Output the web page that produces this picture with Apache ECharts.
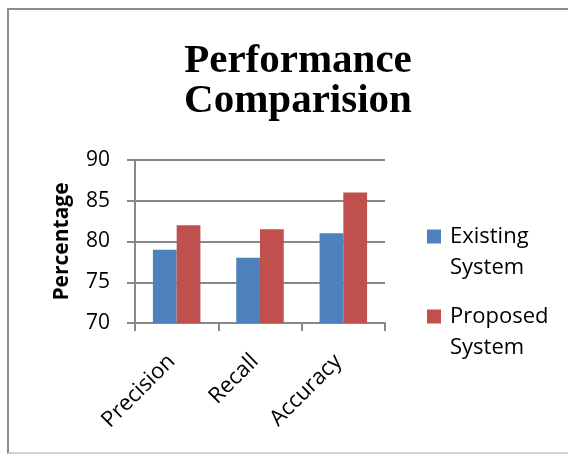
<!DOCTYPE html>
<html>
<head>
<meta charset="utf-8">
<script src="https://cdn.jsdelivr.net/npm/echarts@6/dist/echarts.min.js"></script>
<style>
html,body{margin:0;padding:0;background:#fff;}
#frame{position:absolute;left:7px;top:8px;width:620px;height:442px;border-left:2px solid #8c8c8c;border-top:2px solid #8c8c8c;border-bottom:2px solid #d0d0d0;}
#chart{position:absolute;left:0;top:0;width:568px;height:454px;}
</style>
</head>
<body>
<div id="frame"></div>
<div id="chart"></div>
<script>
const categories = ['Precision', 'Recall', 'Accuracy'];
const existingSystem = [79, 78, 81];
const proposedSystem = [82, 81.5, 86];
const seriesNames = ['Existing\nSystem', 'Proposed\nSystem'];
const yTicks = { min: 70, max: 90, interval: 5 };

const chart = echarts.init(document.getElementById('chart'), null, { renderer: 'canvas' });
const sans = '"Open Sans", sans-serif';
chart.setOption({
  animation: false,
  title: {
    text: 'Performance\nComparision',
    left: 293,
    top: 36,
    textAlign: 'center',
    textStyle: {
      fontFamily: '"Liberation Serif", "Times New Roman", serif',
      fontWeight: 'bold',
      fontSize: 41,
      lineHeight: 40,
      color: '#000'
    }
  },
  legend: {
    orient: 'vertical',
    left: 427,
    top: 190,
    padding: 0,
    itemWidth: 14,
    itemHeight: 14,
    itemGap: -13,
    icon: 'rect',
    data: seriesNames,
    formatter: function (name) {
      return '\n' + name.split('\n').map(function (s) { return '{t|' + s + '}'; }).join('\n');
    },
    textStyle: {
      fontFamily: sans,
      fontSize: 22,
      lineHeight: 31,
      color: '#000',
      rich: {
        t: { fontFamily: sans, fontSize: 22, lineHeight: 31, color: '#000', padding: [0, 0, 0, 4] }
      }
    }
  },
  grid: { left: 135, right: 183, top: 160, bottom: 131, containLabel: false },
  xAxis: {
    type: 'category',
    data: categories,
    axisLine: { lineStyle: { color: '#888', width: 2 } },
    axisTick: { show: true, length: 8, lineStyle: { color: '#888', width: 2 } },
    axisLabel: {
      rotate: 45,
      margin: 30,
      padding: [0, 7, 0, 0],
      fontFamily: sans,
      fontSize: 22,
      color: '#000'
    }
  },
  yAxis: {
    type: 'value',
    min: yTicks.min,
    max: yTicks.max,
    interval: yTicks.interval,
    name: 'Percentage',
    nameLocation: 'middle',
    nameGap: 62,
    nameTextStyle: { fontFamily: sans, fontSize: 21, fontWeight: 'bold', color: '#000' },
    axisLine: { show: true, lineStyle: { color: '#888', width: 2 } },
    axisTick: { show: true, length: 8, lineStyle: { color: '#888', width: 2 } },
    splitLine: { show: true, lineStyle: { color: '#888', width: 2 } },
    axisLabel: { margin: 25, fontFamily: sans, fontSize: 21, color: '#000' }
  },
  series: [
    {
      name: seriesNames[0],
      type: 'bar',
      data: existingSystem,
      barGap: '0%',
      barCategoryGap: '43%',
      itemStyle: { color: '#4F81BD' }
    },
    {
      name: seriesNames[1],
      type: 'bar',
      data: proposedSystem,
      itemStyle: { color: '#C0504D' }
    }
  ]
});
</script>
</body>
</html>
